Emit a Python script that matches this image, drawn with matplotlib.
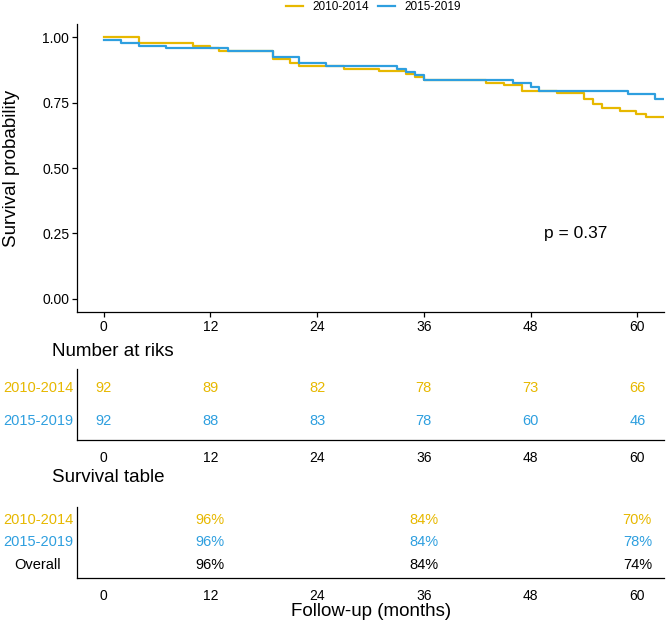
import matplotlib
matplotlib.use("Agg")
import matplotlib.pyplot as plt
import matplotlib.transforms as mtransforms

plt.rcParams['font.family'] = ['Liberation Sans', 'DejaVu Sans']

# ---- data ----
groups = ["2010-2014", "2015-2019"]
colors = ["#E7B800", "#2E9FDF"]

times_a = [0, 4, 10, 12, 13, 19, 21, 22, 27, 31, 34, 35, 36, 43, 45, 47, 51, 54, 55, 56, 58, 59.8, 61, 65]
surv_a = [1.000, 0.978, 0.967, 0.957, 0.946, 0.915, 0.902, 0.891, 0.880, 0.870, 0.859, 0.848, 0.836,
          0.826, 0.817, 0.794, 0.785, 0.762, 0.743, 0.728, 0.718, 0.705, 0.696, 0.696]

times_b = [0, 2, 4, 7, 14, 19, 22, 25, 33, 34, 35, 36, 46, 48, 49, 59, 62, 65]
surv_b = [0.989, 0.978, 0.967, 0.957, 0.946, 0.925, 0.902, 0.891, 0.880, 0.868, 0.855, 0.836,
          0.823, 0.810, 0.795, 0.781, 0.762, 0.762]

x_ticks = [0, 12, 24, 36, 48, 60]
y_ticks = [0.00, 0.25, 0.50, 0.75, 1.00]

at_risk_a = [92, 89, 82, 78, 73, 66]
at_risk_b = [92, 88, 83, 78, 60, 46]

surv_times = [12, 36, 60]
surv_tab_rows = ["2010-2014", "2015-2019", "Overall"]
surv_tab_a = ["96%", "84%", "70%"]
surv_tab_b = ["96%", "84%", "78%"]
surv_tab_all = ["96%", "84%", "74%"]

pval_text = "p = 0.37"

# ---- figure ----
W, H = 666, 627
fig = plt.figure(figsize=(W / 100, H / 100), dpi=100)

def frac_rect(left, top, right, bottom):
    return [left / W, 1 - bottom / H, (right - left) / W, (bottom - top) / H]

XLIM = (-3, 63)
spine_lw = 0.9

def style_axes(ax):
    for s in ["top", "right"]:
        ax.spines[s].set_visible(False)
    for s in ["left", "bottom"]:
        ax.spines[s].set_linewidth(spine_lw)
        ax.spines[s].set_color("black")

# main plot
ax = fig.add_axes(frac_rect(77, 24, 664, 312))
style_axes(ax)
l1, = ax.step(times_a, surv_a, where="post", color=colors[0], lw=1.6, label=groups[0])
l2, = ax.step(times_b, surv_b, where="post", color=colors[1], lw=1.6, label=groups[1])
ax.set_xlim(*XLIM)
ax.set_ylim(-0.05, 1.05)
ax.set_xticks(x_ticks)
ax.set_xticklabels([str(t) for t in x_ticks])
ax.set_yticks(y_ticks)
ax.set_yticklabels([f"{v:.2f}" for v in y_ticks])
ax.tick_params(axis="both", length=3.5, width=0.9, labelsize=10, colors="black")
ax.tick_params(axis="x", pad=2.5)
ax.tick_params(axis="y", pad=2)
ax.text(49.5, 0.25, pval_text, fontsize=12.5, ha="left", va="center")

fig.text(12 / W, 1 - 168 / H, "Survival probability", rotation=90, fontsize=13.5,
         ha="center", va="center")

fig.legend(handles=[l1, l2], labels=groups, loc="center", bbox_to_anchor=(373.5 / W, 1 - 7 / H),
           ncol=2, frameon=False, fontsize=8.5, handlelength=1.45, handletextpad=0.75,
           columnspacing=0.8, borderpad=0, borderaxespad=0)

# risk table
ax2 = fig.add_axes(frac_rect(77, 369, 664, 440))
style_axes(ax2)
ax2.set_xlim(*XLIM)
ax2.set_ylim(0.4, 2.6)
ax2.set_xticks(x_ticks)
ax2.set_xticklabels([str(t) for t in x_ticks])
ax2.set_yticks([])
ax2.tick_params(axis="x", length=0, labelsize=10, pad=8)
for t, n in zip(x_ticks, at_risk_a):
    ax2.text(t, 2, str(n), color=colors[0], fontsize=10.5, ha="center", va="center")
for t, n in zip(x_ticks, at_risk_b):
    ax2.text(t, 1, str(n), color=colors[1], fontsize=10.5, ha="center", va="center")
tr2 = mtransforms.blended_transform_factory(fig.transFigure, ax2.transData)
fig.text(38 / W, 2, groups[0], transform=tr2, color=colors[0], fontsize=10.5, ha="center", va="center")
fig.text(38 / W, 1, groups[1], transform=tr2, color=colors[1], fontsize=10.5, ha="center", va="center")
fig.text(52 / W, 1 - 352 / H, "Number at riks", fontsize=13.5, ha="left", va="center")

# survival table
ax3 = fig.add_axes(frac_rect(77, 507, 664, 578))
style_axes(ax3)
ax3.set_xlim(*XLIM)
ax3.set_ylim(0.4, 3.6)
ax3.set_xticks(x_ticks)
ax3.set_xticklabels([str(t) for t in x_ticks])
ax3.set_yticks([])
ax3.tick_params(axis="x", length=0, labelsize=10, pad=8)
row_colors = [colors[0], colors[1], "black"]
row_vals = [surv_tab_a, surv_tab_b, surv_tab_all]
tr3 = mtransforms.blended_transform_factory(fig.transFigure, ax3.transData)
for i, (name, col, vals) in enumerate(zip(surv_tab_rows, row_colors, row_vals)):
    yv = 3 - i
    for t, v in zip(surv_times, vals):
        ax3.text(t, yv, v, color=col, fontsize=10.5, ha="center", va="center")
    fig.text(38 / W, yv, name, transform=tr3, color=col, fontsize=10.5, ha="center", va="center")
fig.text(52 / W, 1 - 478 / H, "Survival table", fontsize=13.5, ha="left", va="center")

fig.text(371 / W, 1 - 612 / H, "Follow-up (months)", fontsize=13.5, ha="center", va="center")

fig.savefig("out.png", dpi=100)
